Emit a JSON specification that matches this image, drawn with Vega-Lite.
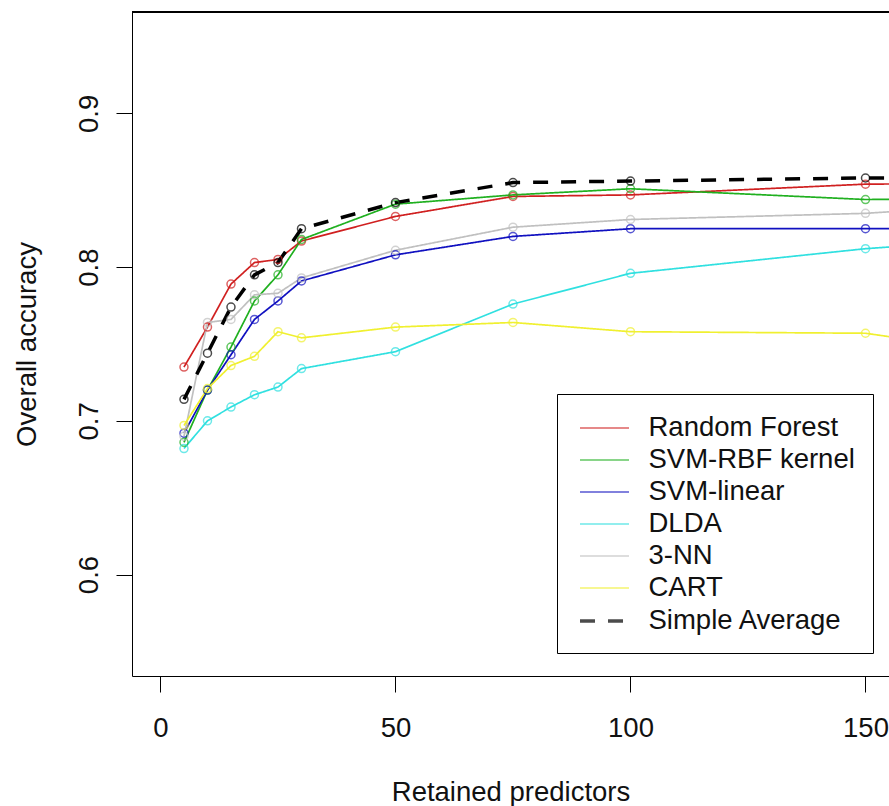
{
  "$schema": "https://vega.github.io/schema/vega-lite/v6.json",
  "width": 757,
  "height": 664,
  "autosize": {"type": "none"},
  "padding": {"left": 132, "top": 12, "right": 0, "bottom": 130},
  "background": "white",
  "config": {
    "view": {"stroke": null},
    "font": "Liberation Sans",
    "axis": {
      "grid": false,
      "domainColor": "black",
      "domainWidth": 1,
      "tickColor": "black",
      "tickWidth": 1,
      "tickSize": 16,
      "labelFont": "Liberation Sans",
      "labelFontSize": 27.5,
      "labelColor": "#111111",
      "titleFont": "Liberation Sans",
      "titleFontSize": 27.5,
      "titleFontWeight": "normal",
      "titleColor": "#111111"
    },
    "legend": {
      "orient": "none",
      "legendX": 425,
      "legendY": 382,
      "strokeColor": "black",
      "fillColor": "white",
      "padding": 18,
      "rowPadding": 2,
      "labelOffset": 27,
      "symbolOffset": 12.5,
      "labelLimit": 207,
      "labelFont": "Liberation Sans",
      "labelFontSize": 27.5,
      "labelColor": "#111111",
      "symbolType": "M-1.633,0H1.633",
      "symbolSize": 900,
      "symbolStrokeWidth": 2,
      "cornerRadius": 0
    }
  },
  "data": {
    "values": [
      {"method": "Random Forest", "k": 5, "acc": 0.735},
      {"method": "Random Forest", "k": 10, "acc": 0.761},
      {"method": "Random Forest", "k": 15, "acc": 0.789},
      {"method": "Random Forest", "k": 20, "acc": 0.803},
      {"method": "Random Forest", "k": 25, "acc": 0.805},
      {"method": "Random Forest", "k": 30, "acc": 0.817},
      {"method": "Random Forest", "k": 50, "acc": 0.833},
      {"method": "Random Forest", "k": 75, "acc": 0.846},
      {"method": "Random Forest", "k": 100, "acc": 0.847},
      {"method": "Random Forest", "k": 150, "acc": 0.854},
      {"method": "Random Forest", "k": 200, "acc": 0.855},
      {"method": "SVM-RBF kernel", "k": 5, "acc": 0.686},
      {"method": "SVM-RBF kernel", "k": 10, "acc": 0.720},
      {"method": "SVM-RBF kernel", "k": 15, "acc": 0.748},
      {"method": "SVM-RBF kernel", "k": 20, "acc": 0.778},
      {"method": "SVM-RBF kernel", "k": 25, "acc": 0.795},
      {"method": "SVM-RBF kernel", "k": 30, "acc": 0.818},
      {"method": "SVM-RBF kernel", "k": 50, "acc": 0.841},
      {"method": "SVM-RBF kernel", "k": 75, "acc": 0.847},
      {"method": "SVM-RBF kernel", "k": 100, "acc": 0.851},
      {"method": "SVM-RBF kernel", "k": 150, "acc": 0.844},
      {"method": "SVM-RBF kernel", "k": 200, "acc": 0.845},
      {"method": "SVM-linear", "k": 5, "acc": 0.692},
      {"method": "SVM-linear", "k": 10, "acc": 0.720},
      {"method": "SVM-linear", "k": 15, "acc": 0.743},
      {"method": "SVM-linear", "k": 20, "acc": 0.766},
      {"method": "SVM-linear", "k": 25, "acc": 0.778},
      {"method": "SVM-linear", "k": 30, "acc": 0.791},
      {"method": "SVM-linear", "k": 50, "acc": 0.808},
      {"method": "SVM-linear", "k": 75, "acc": 0.820},
      {"method": "SVM-linear", "k": 100, "acc": 0.825},
      {"method": "SVM-linear", "k": 150, "acc": 0.825},
      {"method": "SVM-linear", "k": 200, "acc": 0.825},
      {"method": "DLDA", "k": 5, "acc": 0.682},
      {"method": "DLDA", "k": 10, "acc": 0.700},
      {"method": "DLDA", "k": 15, "acc": 0.709},
      {"method": "DLDA", "k": 20, "acc": 0.717},
      {"method": "DLDA", "k": 25, "acc": 0.722},
      {"method": "DLDA", "k": 30, "acc": 0.734},
      {"method": "DLDA", "k": 50, "acc": 0.745},
      {"method": "DLDA", "k": 75, "acc": 0.776},
      {"method": "DLDA", "k": 100, "acc": 0.796},
      {"method": "DLDA", "k": 150, "acc": 0.812},
      {"method": "DLDA", "k": 200, "acc": 0.823},
      {"method": "3-NN", "k": 5, "acc": 0.690},
      {"method": "3-NN", "k": 10, "acc": 0.764},
      {"method": "3-NN", "k": 15, "acc": 0.766},
      {"method": "3-NN", "k": 20, "acc": 0.782},
      {"method": "3-NN", "k": 25, "acc": 0.783},
      {"method": "3-NN", "k": 30, "acc": 0.793},
      {"method": "3-NN", "k": 50, "acc": 0.811},
      {"method": "3-NN", "k": 75, "acc": 0.826},
      {"method": "3-NN", "k": 100, "acc": 0.831},
      {"method": "3-NN", "k": 150, "acc": 0.835},
      {"method": "3-NN", "k": 200, "acc": 0.845},
      {"method": "CART", "k": 5, "acc": 0.697},
      {"method": "CART", "k": 10, "acc": 0.721},
      {"method": "CART", "k": 15, "acc": 0.736},
      {"method": "CART", "k": 20, "acc": 0.742},
      {"method": "CART", "k": 25, "acc": 0.758},
      {"method": "CART", "k": 30, "acc": 0.754},
      {"method": "CART", "k": 50, "acc": 0.761},
      {"method": "CART", "k": 75, "acc": 0.764},
      {"method": "CART", "k": 100, "acc": 0.758},
      {"method": "CART", "k": 150, "acc": 0.757},
      {"method": "CART", "k": 200, "acc": 0.735},
      {"method": "Simple Average", "k": 5, "acc": 0.714},
      {"method": "Simple Average", "k": 10, "acc": 0.744},
      {"method": "Simple Average", "k": 15, "acc": 0.774},
      {"method": "Simple Average", "k": 20, "acc": 0.795},
      {"method": "Simple Average", "k": 25, "acc": 0.803},
      {"method": "Simple Average", "k": 30, "acc": 0.825},
      {"method": "Simple Average", "k": 50, "acc": 0.842},
      {"method": "Simple Average", "k": 75, "acc": 0.855},
      {"method": "Simple Average", "k": 100, "acc": 0.856},
      {"method": "Simple Average", "k": 150, "acc": 0.858},
      {"method": "Simple Average", "k": 200, "acc": 0.858}
    ]
  },
  "encoding": {
    "x": {
      "field": "k", "type": "quantitative",
      "scale": {"domain": [-6.06, 155], "nice": false, "zero": false},
      "axis": {"values": [0, 50, 100, 150], "title": "Retained predictors", "labelBaseline": "top", "labelPadding": 22, "titleY": 124, "titleBaseline": "alphabetic"}
    },
    "y": {
      "field": "acc", "type": "quantitative",
      "scale": {"domain": [0.534, 0.966], "nice": false, "zero": false},
      "axis": {"values": [0.6, 0.7, 0.8, 0.9], "format": ".1f", "title": "Overall accuracy", "labelAngle": 270, "labelAlign": "center", "labelBaseline": "alphabetic", "labelPadding": 19, "titleAngle": 270, "titleX": -97, "titleBaseline": "alphabetic", "titleAlign": "center"}
    }
  },
  "layer": [
    {
      "mark": {"type": "rule", "color": "black", "strokeWidth": 1},
      "encoding": {
        "y": {"datum": 0.966, "type": "quantitative"},
        "x": null
      }
    },
    {
      "mark": {"type": "line", "clip": true},
      "encoding": {
        "color": {
          "field": "method", "type": "nominal", "title": null,
          "legend": {"symbolType": "M-1.633,0H1.633"},
          "scale": {
            "domain": ["Random Forest", "SVM-RBF kernel", "SVM-linear", "DLDA", "3-NN", "CART", "Simple Average"],
            "range": ["#d02020", "#20b020", "#1010c0", "#30e0e0", "#c0c0c0", "#f0f030", "#000000"]
          }
        },
        "strokeDash": {
          "field": "method", "type": "nominal", "title": null,
          "scale": {
            "domain": ["Random Forest", "SVM-RBF kernel", "SVM-linear", "DLDA", "3-NN", "CART", "Simple Average"],
            "range": [[1, 0], [1, 0], [1, 0], [1, 0], [1, 0], [1, 0], [15, 13]]
          }
        },
        "strokeWidth": {
          "field": "method", "type": "ordinal", "title": null,
          "scale": {
            "type": "ordinal",
            "domain": ["Random Forest", "SVM-RBF kernel", "SVM-linear", "DLDA", "3-NN", "CART", "Simple Average"],
            "range": [1.7, 1.7, 1.7, 1.7, 1.7, 1.7, 3.5]
          }
        }
      }
    },
    {
      "mark": {"type": "point", "shape": "circle", "filled": false, "size": 64, "strokeWidth": 1.5, "clip": true},
      "encoding": {
        "color": {"field": "method", "type": "nominal", "title": null, "legend": {"symbolType": "M-1.633,0H1.633"}}
      }
    }
  ]
}
